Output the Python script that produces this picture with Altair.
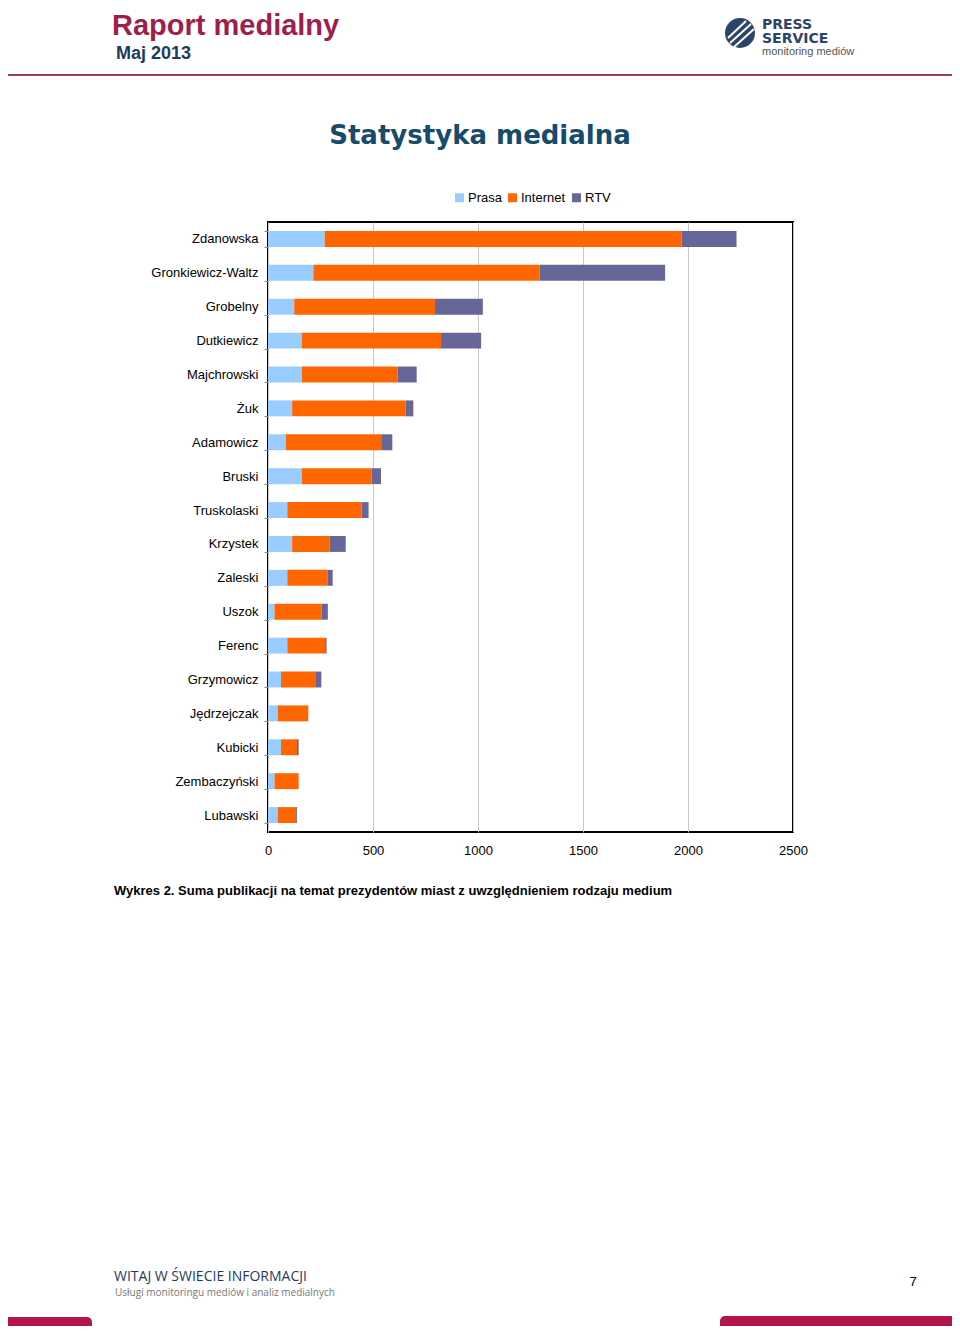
import altair as alt
import pandas as pd

names = ["Zdanowska", "Gronkiewicz-Waltz", "Grobelny", "Dutkiewicz", "Majchrowski", "Żuk",
         "Adamowicz", "Bruski", "Truskolaski", "Krzystek", "Zaleski", "Uszok", "Ferenc",
         "Grzymowicz", "Jędrzejczak", "Kubicki", "Zembaczyński", "Lubawski"]
prasa = [270, 216, 125, 161, 161, 115, 85, 161, 92, 115, 92, 31, 92, 62, 46, 62, 31, 46]
internet = [1700, 1077, 670, 663, 457, 541, 454, 332, 354, 178, 193, 225, 180, 163, 146, 76, 115, 88]
rtv = [261, 598, 228, 191, 90, 36, 53, 45, 33, 77, 23, 29, 7, 29, 0, 8, 0, 4]
media = ["Prasa", "Internet", "RTV"]
media_colors = ["#99ccff", "#ff6600", "#666699"]
x_ticks = [0, 500, 1000, 1500, 2000, 2500]

rows = []
for i, n in enumerate(names):
    for k, (m, vals) in enumerate(zip(media, [prasa, internet, rtv])):
        rows.append({"name": n, "medium": m, "value": vals[i], "ord": k})
df = pd.DataFrame(rows)

OX, OY = 268, 222  # plot origin on page
FONT = "Liberation Sans"

bars = alt.Chart(df).mark_bar().encode(
    y=alt.Y("name:N", sort=names, title=None,
            scale=alt.Scale(paddingInner=0.53, paddingOuter=0.265),
            axis=alt.Axis(labelFont=FONT, labelFontSize=13, labelColor="black",
                          labelPadding=6, tickBand="extent", tickSize=4,
                          tickColor="#888888", domain=False)),
    x=alt.X("value:Q", stack="zero", title=None,
            scale=alt.Scale(domain=[0, 2500], nice=False),
            axis=alt.Axis(values=x_ticks, grid=True, gridColor="#c8c8c8", gridWidth=1,
                          labelFont=FONT, labelFontSize=13, labelColor="black",
                          labelFlush=False, labelBound=False,
                          ticks=False, labelPadding=12, domain=False, format="d")),
    color=alt.Color("medium:N", scale=alt.Scale(domain=media, range=media_colors),
                    legend=alt.Legend(title=None, orient="none", direction="horizontal",
                                      legendX=453 - OX, legendY=191 - OY,
                                      symbolType="square", symbolSize=80,
                                      symbolStrokeWidth=0, labelFont=FONT,
                                      labelFontSize=13, labelColor="black",
                                      labelOffset=2, columnPadding=4)),
    order=alt.Order("ord:Q"),
)

blank = alt.Data(values=[{}])


def txt(s, px, py, size, color, weight="normal", font=FONT, align="left", baseline="alphabetic"):
    return alt.Chart(blank).mark_text(
        text=s, fontSize=size, color=color, fontWeight=weight, font=font,
        align=align, baseline=baseline
    ).encode(x=alt.value(px - OX), y=alt.value(py - OY))


def rect(x1, y1, x2, y2, color, **kw):
    return alt.Chart(blank).mark_rect(color=color, **kw).encode(
        x=alt.value(x1 - OX), x2=alt.value(x2 - OX), y=alt.value(y1 - OY), y2=alt.value(y2 - OY))


def line(x1, y1, x2, y2, color, w):
    return alt.Chart(blank).mark_rule(color=color, strokeWidth=w).encode(
        x=alt.value(x1 - OX), x2=alt.value(x2 - OX), y=alt.value(y1 - OY), y2=alt.value(y2 - OY))


logo_circle = alt.Chart(blank).mark_circle(color="#2b4467", opacity=1, size=900).encode(
    x=alt.value(740 - OX), y=alt.value(33 - OY))

layers = [
    bars,
    txt("Raport medialny", 112, 35, 29, "#9d1f4e", "bold"),
    txt("Maj 2013", 116, 59, 18, "#1a3d5e", "bold"),
    line(0, 75, 960, 75, "#9e3d63", 2),
    logo_circle,
    line(728, 38, 746, 21, "white", 2),
    line(730, 43, 751, 24, "white", 2),
    line(734, 47, 754, 29, "white", 2),
    txt("PRESS", 762, 29, 14, "#2b4467", "bold", font="DejaVu Sans"),
    txt("SERVICE", 762, 43, 14, "#2b4467", "bold", font="DejaVu Sans"),
    txt("monitoring mediów", 762, 55, 11, "#555555"),
    txt("Statystyka medialna", 480, 144, 26, "#174b6c", "bold", font="DejaVu Sans", align="center"),
    txt("Wykres 2. Suma publikacji na temat prezydentów miast z uwzględnieniem rodzaju medium",
        114, 895, 13, "black", "bold"),
    txt("WITAJ W ŚWIECIE INFORMACJI", 114, 1281, 14, "#1f3a5c", font="Open Sans"),
    txt("Usługi monitoringu mediów i analiz medialnych", 115, 1296, 10, "#777777", font="Open Sans"),
    txt("7", 913, 1286, 13, "black", align="center"),
    rect(0, 1317, 92, 1340, "#b5134b", cornerRadiusTopRight=5),
    rect(720, 1316, 960, 1340, "#b5134b", cornerRadiusTopLeft=5),
]

chart = alt.layer(*layers).properties(
    width=525, height=610,
    autosize=alt.AutoSizeParams(type="none"),
    padding={"left": 260, "top": 214, "right": 159, "bottom": 494},
).configure_view(stroke="black", strokeWidth=2)

chart.save("out.html", embed_options={"renderer": "svg", "actions": False})
